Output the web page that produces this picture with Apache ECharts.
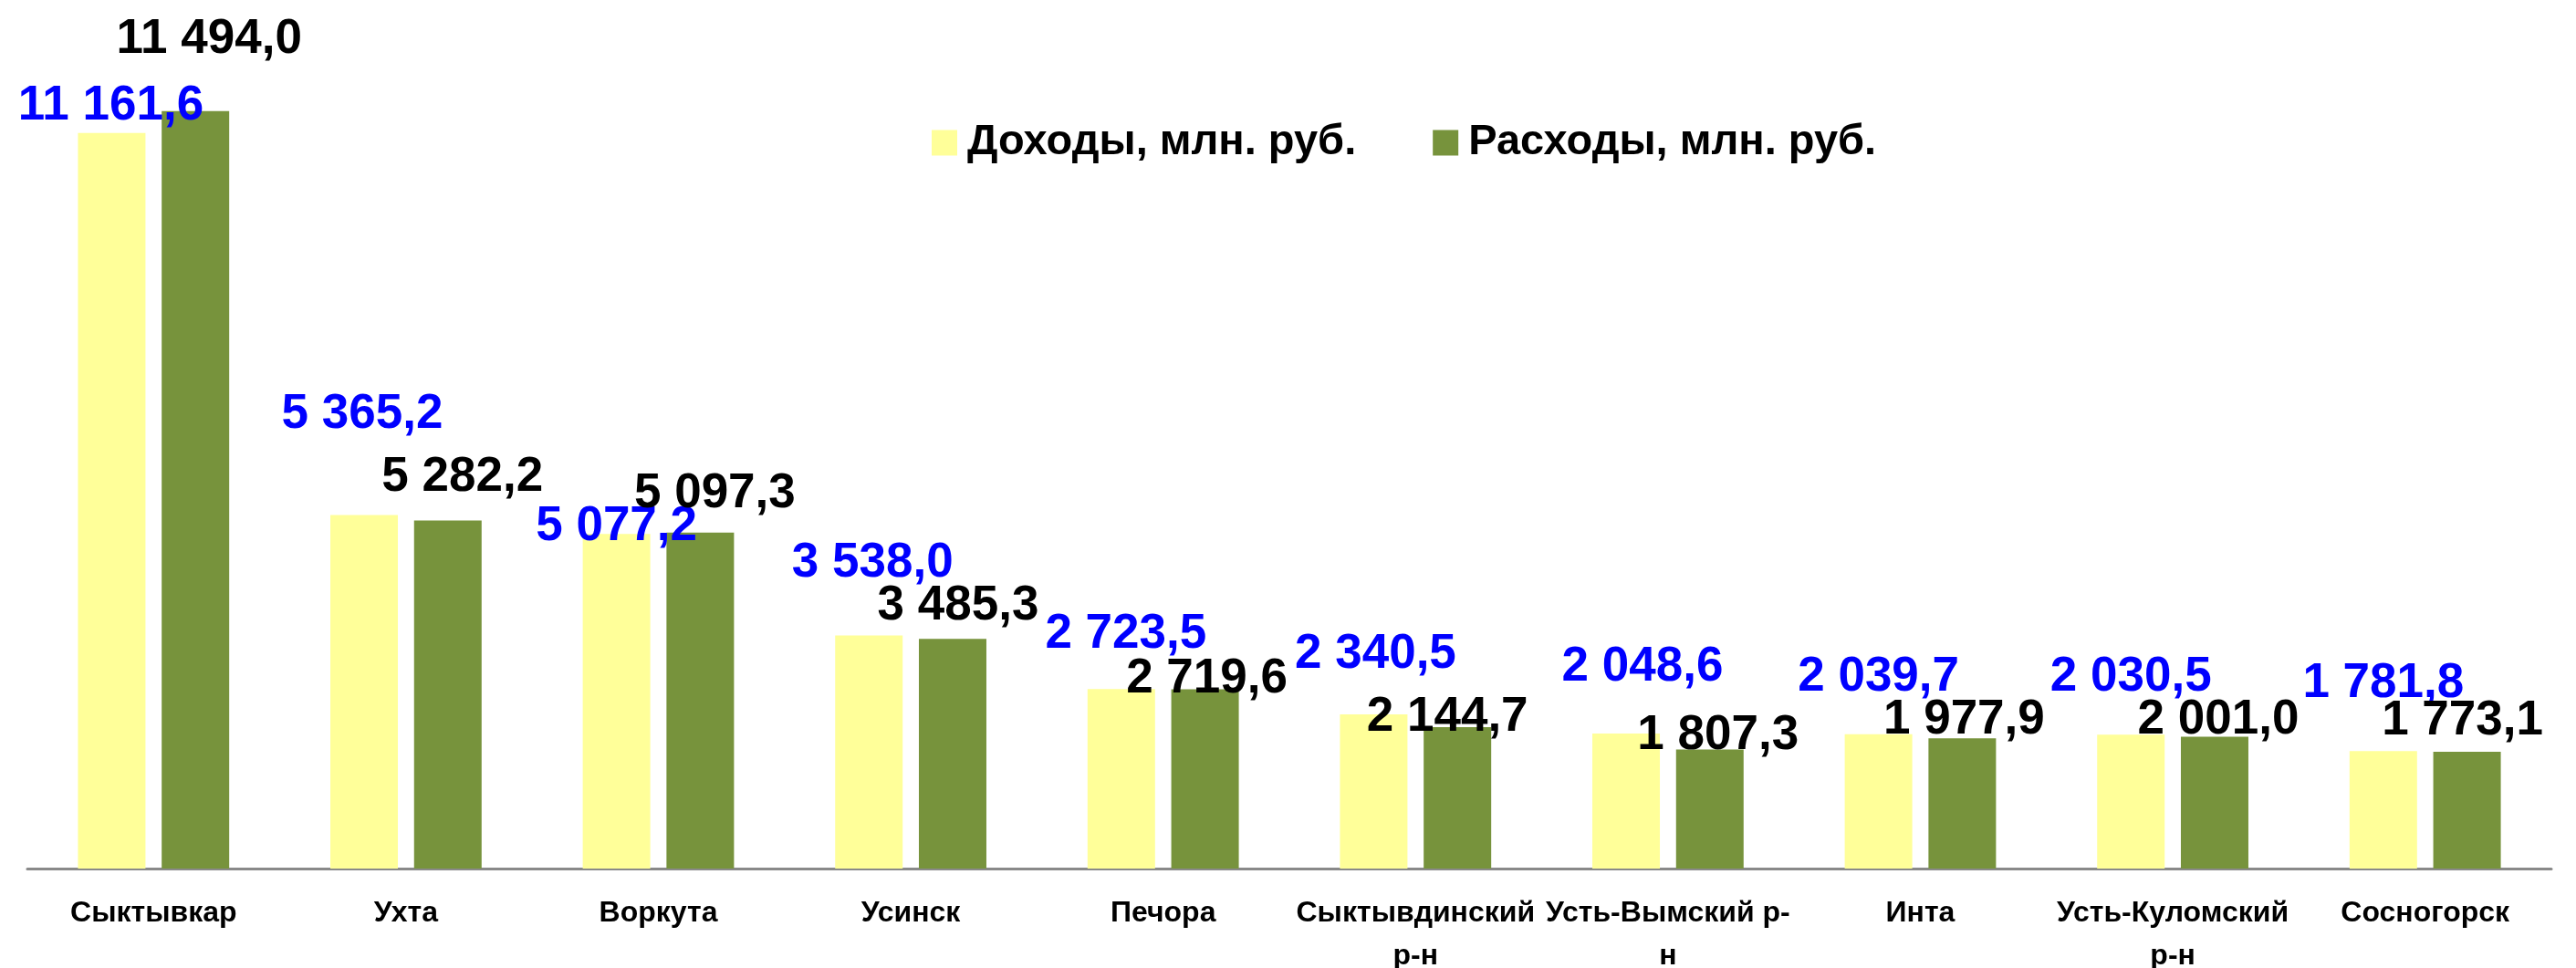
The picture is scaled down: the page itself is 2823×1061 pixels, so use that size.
<!DOCTYPE html>
<html>
<head>
<meta charset="utf-8">
<script src="https://cdn.jsdelivr.net/npm/echarts@6/dist/echarts.min.js"></script>
<style>
  html, body { margin: 0; padding: 0; background: #ffffff; }
  #chart { width: 2823px; height: 1061px; }
</style>
</head>
<body>
<div id="chart"></div>
<script>
// Данные: доходы и расходы бюджетов МО, млн. руб.
var categories = ['Сыктывкар', 'Ухта', 'Воркута', 'Усинск', 'Печора',
    'Сыктывдинский\nр-н', 'Усть-Вымский р-\nн', 'Инта', 'Усть-Куломский\nр-н', 'Сосногорск'];
var incomeName = 'Доходы, млн. руб.';
var expenseName = 'Расходы, млн. руб.';
var incomeValues = [11161.6, 5365.2, 5077.2, 3538.0, 2723.5, 2340.5, 2048.6, 2039.7, 2030.5, 1781.8];
var expenseValues = [11494.0, 5282.2, 5097.3, 3485.3, 2719.6, 2144.7, 1807.3, 1977.9, 2001.0, 1773.1];

// Положение подписей (подписи в исходнике сдвинуты вручную)
var incomeLabelLift = [29, 110, 8, 79, 60, 66, 73, 62, 63, 74];
var incomeLabelShift = [-1, -2, 0, 4, 5, 2, 18, 0, 0, 0];
var expenseLabelLift = [78, 47, 42, 36, 11, 11, 15, 20, 18, 34];
var expenseLabelShift = [15, 16, 16, 6, 2, -11, 9, 2, 4, -5];

var FONT = "'Liberation Sans', Arial, sans-serif";

// Формат числа: 11 494,0
function formatValue(v) {
    var parts = v.toFixed(1).split('.');
    var intPart = parts[0].replace(/\B(?=(\d{3})+(?!\d))/g, ' ');
    return intPart + ',' + parts[1];
}

function buildItems(values, lift, shift) {
    return values.map(function(v, i) {
        return {
            value: v,
            label: { distance: lift[i], offset: [shift[i], 0] }
        };
    });
}

var chart = echarts.init(document.getElementById('chart'));

var option = {
    backgroundColor: '#ffffff',
    animation: false,
    legend: {
        left: 1016,
        top: 128,
        itemWidth: 28,
        itemHeight: 28,
        itemGap: 84,
        icon: 'rect',
        textStyle: {
            fontFamily: FONT,
            fontWeight: 'bold',
            fontSize: 47,
            color: '#000000',
            padding: [0, 0, 0, 6]
        },
        data: [incomeName, expenseName]
    },
    grid: { left: 30, right: 27, top: 13, bottom: 109, containLabel: false, outerBoundsMode: 'none' },
    xAxis: {
        type: 'category',
        data: categories,
        axisLine: { lineStyle: { color: '#898989', width: 3 } },
        axisTick: { show: false },
        axisLabel: {
            interval: 0,
            margin: 26,
            fontFamily: FONT,
            fontWeight: 'bold',
            fontSize: 32,
            lineHeight: 47,
            color: '#000000'
        }
    },
    yAxis: {
        type: 'value',
        min: 0,
        max: 13000,
        show: false,
        splitLine: { show: false }
    },
    series: [
        {
            name: incomeName,
            type: 'bar',
            barWidth: 74,
            barGap: '24%',
            itemStyle: { color: '#FFFF99' },
            label: {
                show: true,
                position: 'top',
                verticalAlign: 'middle',
                fontFamily: FONT,
                fontWeight: 'bold',
                fontSize: 53,
                color: '#0000FF',
                formatter: function(p) { return formatValue(p.value); }
            },
            data: buildItems(incomeValues, incomeLabelLift, incomeLabelShift)
        },
        {
            name: expenseName,
            type: 'bar',
            barWidth: 74,
            barGap: '24%',
            itemStyle: { color: '#77933C' },
            label: {
                show: true,
                position: 'top',
                verticalAlign: 'middle',
                fontFamily: FONT,
                fontWeight: 'bold',
                fontSize: 53,
                color: '#000000',
                formatter: function(p) { return formatValue(p.value); }
            },
            data: buildItems(expenseValues, expenseLabelLift, expenseLabelShift)
        }
    ]
};

chart.setOption(option);
</script>
</body>
</html>
